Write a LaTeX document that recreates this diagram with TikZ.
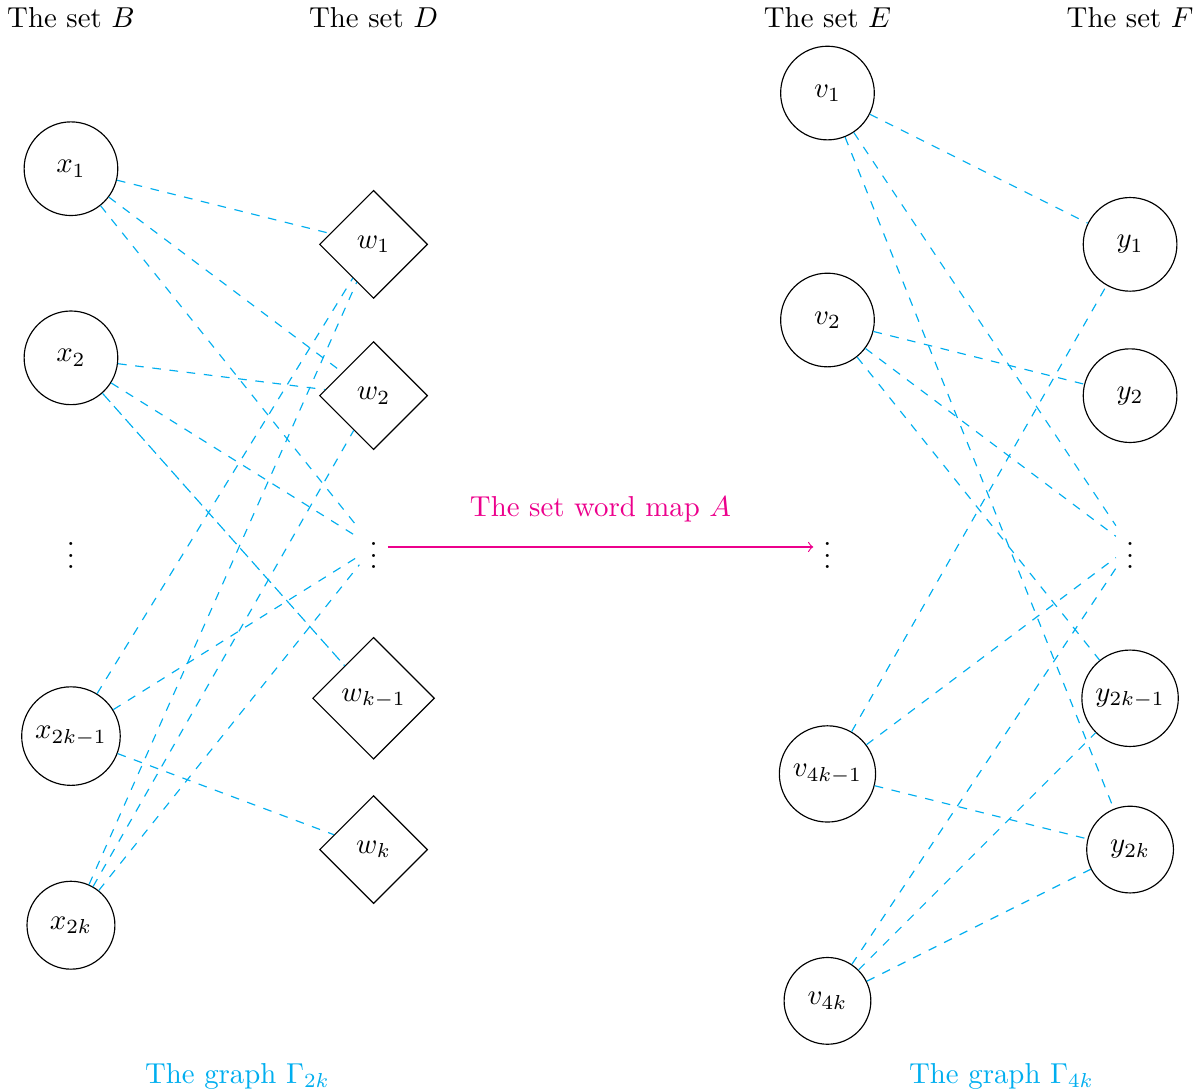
\documentclass[tikz,border=0pt]{standalone}
\usepackage{amssymb}
\usepackage{tikz}
\usetikzlibrary{shapes.geometric}
\definecolor{graphcyan}{RGB}{0,174,239}
\definecolor{mapmagenta}{RGB}{236,0,140}
\tikzstyle{vert} = [draw=black, circle, minimum size=32.5pt]
\tikzstyle{wordv} = [draw=black, diamond, minimum size=37.5pt]
\tikzstyle{edge} = [dashed, color=graphcyan]
\tikzstyle{wordmap} = [->, color=mapmagenta]
\begin{document}
\begin{tikzpicture}[x=52.5pt,y=52.5pt]
    \useasboundingbox (-0.469,-3.589) rectangle (7.429,3.615);
    \node(hB) at (0,3.5){The set $B$};
    \node(hD) at (2,3.5){The set $D$};
    \node(hE) at (5,3.5){The set $E$};
    \node(hF) at (7,3.5){The set $F$};
    \node[vert](x1) at (0,2.5){$x_1$};
    \node[vert](x2) at (0,1.25){$x_2$};
    \node(xd) at (0,0){$\vdots$};
    \node[vert,minimum size=33.5pt](x2k1) at (0,-1.25){$x_{2k-1}$};
    \node[vert,minimum size=30.5pt](x2k) at (0,-2.5){$x_{2k}$};
    \node[wordv](w1) at (2,2){$w_1$};
    \node[wordv](w2) at (2,1){$w_2$};
    \node(wd) at (2,0){$\vdots$};
    \node[wordv,minimum size=42pt](wk1) at (2,-1){$w_{k-1}$};
    \node[wordv](wk) at (2,-2){$w_k$};
    \node[vert](v1) at (5,3){$v_1$};
    \node[vert](v2) at (5,1.5){$v_2$};
    \node(vd) at (5,0){$\vdots$};
    \node[vert,minimum size=33.3pt](v4k1) at (5,-1.5){$v_{4k-1}$};
    \node[vert,minimum size=30.1pt](v4k) at (5,-3){$v_{4k}$};
    \node[vert](y1) at (7,2){$y_1$};
    \node[vert](y2) at (7,1){$y_2$};
    \node(yd) at (7,0){$\vdots$};
    \node[vert,minimum size=33.3pt](y2k1) at (7,-1){$y_{2k-1}$};
    \node[vert,minimum size=30.1pt](y2k) at (7,-2){$y_{2k}$};
    \node[text=graphcyan](g2k) at (1.1,-3.5){The graph $\Gamma_{2k}$};
    \node[text=graphcyan](g4k) at (6.15,-3.5){The graph $\Gamma_{4k}$};
    \draw[edge](x1)--(w1);
    \draw[edge](x1)--(w2);
    \draw[edge](x1)--(wd);
    \draw[edge](x2)--(w2);
    \draw[edge](x2)--(wd);
    \draw[edge,dash pattern=on 4pt off 2pt](x2)--(wk1);
    \draw[edge](x2k1)--(w1);
    \draw[edge](x2k1)--(wd);
    \draw[edge](x2k1)--(wk);
    \draw[edge](x2k)--(w1);
    \draw[edge](x2k)--(w2);
    \draw[edge](x2k)--(wd);
    \draw[edge](v1)--(y1);
    \draw[edge](v1)--(yd);
    \draw[edge](v1)--(y2k);
    \draw[edge](v2)--(y2);
    \draw[edge](v2)--(yd);
    \draw[edge](v2)--(y2k1);
    \draw[edge](v4k1)--(y1);
    \draw[edge](v4k1)--(yd);
    \draw[edge](v4k1)--(y2k);
    \draw[edge](v4k)--(yd);
    \draw[edge](v4k)--(y2k1);
    \draw[edge](v4k)--(y2k);
    \draw[wordmap](wd)--(vd) node[midway,above=5pt]{The set word map $A$};
  \end{tikzpicture}
\end{document}
